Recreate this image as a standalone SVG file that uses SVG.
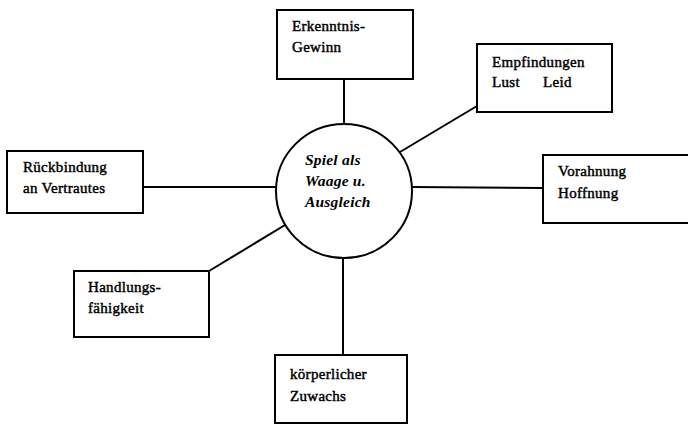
<svg xmlns="http://www.w3.org/2000/svg" width="688" height="424" viewBox="0 0 688 424">
<style>
.box{fill:#fff;stroke:#000;stroke-width:2}
.ln{stroke:#000;stroke-width:2;fill:none}
.t{font-family:"Liberation Serif","Times New Roman",serif;font-size:15px;fill:#000;stroke:#000;stroke-width:0.45;letter-spacing:0.3px}
.c{font-family:"Liberation Serif","Times New Roman",serif;font-size:15.5px;font-weight:bold;font-style:italic;fill:#000;letter-spacing:0.2px}
</style>
<rect width="688" height="424" fill="#fff"/>
<g id="connectors">
<line class="ln" x1="344" y1="79" x2="344" y2="124"/>
<line class="ln" x1="400" y1="152" x2="477" y2="106"/>
<line class="ln" x1="143" y1="187" x2="277" y2="187"/>
<line class="ln" x1="412" y1="187" x2="543" y2="188"/>
<line class="ln" x1="209" y1="271" x2="290" y2="222"/>
<line class="ln" x1="343" y1="258" x2="343" y2="355"/>
</g>
<g id="center">
<ellipse class="box" cx="344" cy="191" rx="68" ry="67"/>
<text class="c" x="305" y="165">Spiel als</text>
<text class="c" x="305" y="186">Waage u.</text>
<text class="c" x="305" y="207">Ausgleich</text>
</g>
<g id="erkenntnis">
<rect class="box" x="277" y="10" width="136" height="69"/>
<text class="t" x="292" y="31">Erkenntnis-</text>
<text class="t" x="292" y="52">Gewinn</text>
</g>
<g id="empfindungen">
<rect class="box" x="477" y="44" width="135" height="68"/>
<text class="t" x="492" y="67">Empfindungen</text>
<text class="t" x="492" y="87">Lust</text>
<text class="t" x="543" y="87">Leid</text>
</g>
<g id="rueckbindung">
<rect class="box" x="7" y="151" width="136" height="62"/>
<text class="t" x="23" y="172">Rückbindung</text>
<text class="t" x="23" y="193">an Vertrautes</text>
</g>
<g id="vorahnung">
<rect class="box" x="543" y="155" width="150" height="68"/>
<text class="t" x="558" y="176">Vorahnung</text>
<text class="t" x="558" y="198">Hoffnung</text>
</g>
<g id="handlung">
<rect class="box" x="74" y="271" width="135" height="66"/>
<text class="t" x="88" y="292">Handlungs-</text>
<text class="t" x="88" y="313">fähigkeit</text>
</g>
<g id="koerper">
<rect class="box" x="275" y="355" width="132" height="68"/>
<text class="t" x="290" y="379">körperlicher</text>
<text class="t" x="290" y="401">Zuwachs</text>
</g>
</svg>
